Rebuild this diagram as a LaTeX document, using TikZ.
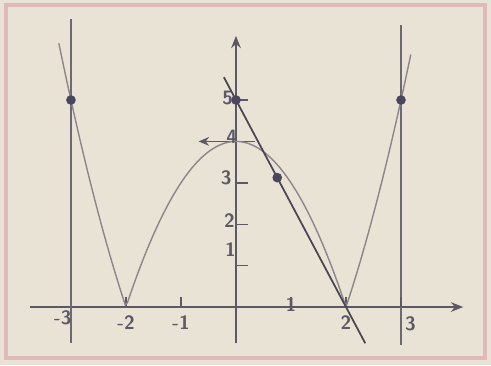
\documentclass[tikz,border=0pt]{standalone}
\definecolor{paper}{RGB}{233,227,214}
\definecolor{framepink}{RGB}{224,186,184}
\definecolor{ink}{RGB}{92,88,102}
\definecolor{curvegray}{RGB}{140,134,138}
\definecolor{dotink}{RGB}{74,70,94}
\usepackage{tikz}
\usetikzlibrary{arrows.meta, positioning, calc}

\begin{document}
\begin{tikzpicture}[x=1.1cm, y=0.828cm,
  axis/.style={draw=ink, line width=0.9pt, -{Stealth[length=7pt, width=5.5pt]}},
  guide/.style={draw=ink!90, line width=0.8pt},
  tickmark/.style={draw=ink, line width=0.8pt},
  lbl/.style={font=\fontsize{11}{13}\selectfont\sffamily\bfseries, text=ink, inner sep=1pt},
  dot/.style={circle, fill=dotink, inner sep=0pt, minimum size=5.5pt}
]
  % paper and frame
  \fill[paper] (-4.29,-1.40) rectangle (4.636,7.415);
  \draw[framepink, line width=2.2pt] (-4.18,-1.23) rectangle (4.53,7.29);

  % axes
  \coordinate (xl) at (-3.75,0);
  \coordinate (xr) at (4.13,0);
  \coordinate (yb) at (0,-0.87);
  \coordinate (yt) at (0,6.55);
  \draw[axis] (xl) -- (xr);
  \draw[axis] (yb) -- (yt);

  % vertical guides at x=-3 and x=3
  \coordinate (gl1) at (-3,-0.87);
  \coordinate (gl2) at (-3,6.95);
  \coordinate (gr1) at (3,-0.92);
  \coordinate (gr2) at (3,6.8);
  \draw[guide] (gl1) -- (gl2);
  \draw[guide] (gr1) -- (gr2);

  % ticks
  \foreach \t in {-2,-1,1,2,3}
    \draw[tickmark] (\t,0) -- (\t,0.25);
  \foreach \t in {1,2,3,5}
    \draw[tickmark] (0,\t) -- (0.22,\t);
  \coordinate (fourR) at (0.35,4);
  \coordinate (fourL) at (-0.68,4);
  \draw[tickmark, -{Stealth[length=6pt, width=5pt]}] (fourR) -- (fourL);

  % graph of |x^2-4|
  \draw[curvegray, line width=0.8pt] plot[domain=-3.22:3.18, samples=160] (\x,{abs(\x*\x-4)});

  % line through (0,5) and (2,0)
  \coordinate (ta) at (-0.22,5.55);
  \coordinate (tb) at (2.35,-0.875);
  \draw[ink!80!black, line width=1pt] (ta) -- (tb);

  % points
  \node[dot] (pL) at (-3,5) {};
  \node[dot] (pR) at (3,5) {};
  \node[dot] (pY) at (0,5) {};
  \node[dot] (pT) at (0.75,3.125) {};

  % x labels
  \node[lbl] (xm3) at (-3.15,-0.27) {-3};
  \node[lbl] (xm2) at (-2,-0.38) {-2};
  \node[lbl] (xm1) at (-1,-0.38) {-1};
  \node[lbl] (x1) at (1,0.05) {1};
  \node[lbl] (x2) at (2,-0.38) {2};
  \node[lbl] (x3) at (3.17,-0.4) {3};

  % y labels
  \node[lbl] (y1) at (-0.1,1.38) {1};
  \node[lbl] (y2) at (-0.12,2.08) {2};
  \node[lbl] (y3) at (-0.18,3.12) {3};
  \node[lbl] (y4) at (-0.08,4.1) {4};
  \node[lbl] (y5) at (-0.15,5.05) {5};
\end{tikzpicture}
\end{document}
